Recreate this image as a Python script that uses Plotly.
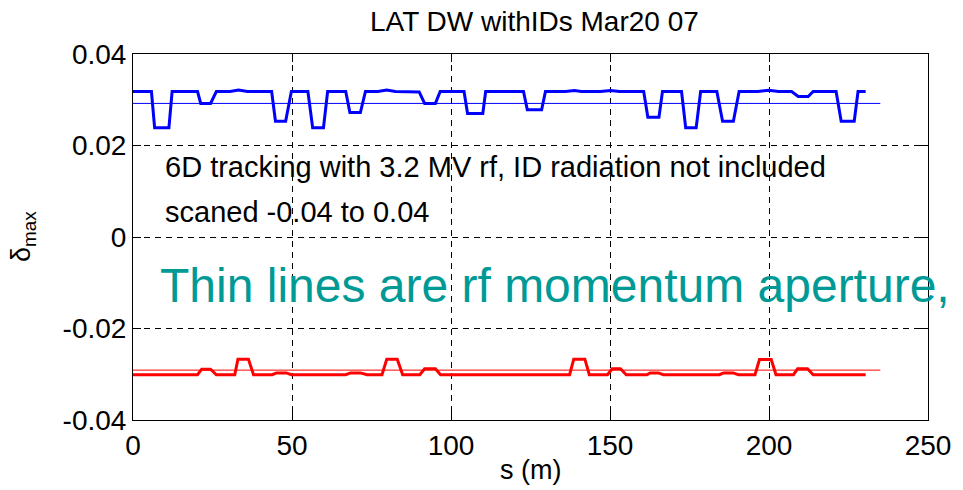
import plotly.graph_objects as go

# ---- data ----
s_blue = [0, 5.8, 6.8, 11.3, 12.3, 20.3, 21.3, 24.4, 26.2, 30.5, 33.2, 36, 43.6, 44.8, 48.0, 49.8,
          55.0, 56.5, 59.9, 61.2, 66.9, 68.2, 71.5, 73.1, 77, 79.8, 82.5, 86, 88, 90.0, 91.7, 95.1,
          96.6, 104.1, 105.2, 110.0, 110.9, 122.8, 124.0, 128.5, 129.7, 136, 138.8, 141, 147, 150.2,
          153, 160.6, 161.9, 165.4, 166.5, 172.5, 173.8, 177.1, 178.5, 183.6, 185.4, 188.8, 190.6,
          196.5, 199.9, 203, 207.1, 209.2, 212.3, 213.9, 221.1, 222.7, 226.8, 228.0, 230.4]
d_blue = [0.0318, 0.0318, 0.0239, 0.0239, 0.0318, 0.0318, 0.0292, 0.0292, 0.0318, 0.0318, 0.0321,
          0.0318, 0.0318, 0.0253, 0.0253, 0.0318, 0.0318, 0.0239, 0.0239, 0.0318, 0.0318, 0.0272,
          0.0272, 0.0318, 0.0318, 0.0321, 0.0318, 0.0318, 0.0317, 0.0317, 0.0292, 0.0292, 0.0318,
          0.0318, 0.0270, 0.0270, 0.0318, 0.0318, 0.0278, 0.0278, 0.0318, 0.0318, 0.0320, 0.0318,
          0.0318, 0.0320, 0.0318, 0.0318, 0.0262, 0.0262, 0.0318, 0.0318, 0.0239, 0.0239, 0.0318,
          0.0318, 0.0253, 0.0253, 0.0318, 0.0318, 0.0321, 0.0318, 0.0318, 0.0307, 0.0307, 0.0318,
          0.0318, 0.0253, 0.0253, 0.0318, 0.0318]

s_red = [0, 20.3, 21.6, 24.4, 26.2, 32.0, 33.0, 36.3, 37.9, 43.8, 45.1, 48.2, 49.8, 66.9, 68.4, 71.5,
         73.6, 78.3, 79.8, 83.1, 84.8, 90.2, 91.7, 95.1, 96.7, 137.3, 138.6, 142.1, 143.5, 149.2,
         150.7, 153.3, 155.1, 161.6, 162.6, 165.2, 166.8, 184.4, 185.7, 188.7, 190.4, 195.6, 197.0,
         200.7, 202.2, 207.7, 209.0, 212.1, 213.9, 230.4]
d_red = [-0.0301, -0.0301, -0.0289, -0.0289, -0.0301, -0.0301, -0.0267, -0.0267, -0.0301, -0.0301,
         -0.0297, -0.0297, -0.0301, -0.0301, -0.0297, -0.0297, -0.0301, -0.0301, -0.0267, -0.0267,
         -0.0301, -0.0301, -0.0288, -0.0288, -0.0301, -0.0301, -0.0267, -0.0267, -0.0301, -0.0301,
         -0.0288, -0.0288, -0.0301, -0.0301, -0.0297, -0.0297, -0.0301, -0.0301, -0.0297, -0.0297,
         -0.0301, -0.0301, -0.0268, -0.0268, -0.0301, -0.0301, -0.0288, -0.0288, -0.0301, -0.0301]

s_rf = [0, 235]
d_rf_pos = [0.0292, 0.0292]
d_rf_neg = [-0.0291, -0.0291]

x_ticks = [0, 50, 100, 150, 200, 250]
x_ticktext = ["0", "50", "100", "150", "200", "250"]
y_ticks = [0.04, 0.02, 0, -0.02, -0.04]
y_ticktext = ["0.04", "0.02", "0", "-0.02", "-0.04"]

FONT = "Liberation Sans, Arial, sans-serif"

fig = go.Figure()
fig.add_trace(go.Scatter(x=s_rf, y=d_rf_pos, mode="lines",
                         line=dict(color="#0000FF", width=1), showlegend=False))
fig.add_trace(go.Scatter(x=s_rf, y=d_rf_neg, mode="lines",
                         line=dict(color="#FF0000", width=1), showlegend=False))
fig.add_trace(go.Scatter(x=s_blue, y=d_blue, mode="lines",
                         line=dict(color="#0000FF", width=3), showlegend=False))
fig.add_trace(go.Scatter(x=s_red, y=d_red, mode="lines",
                         line=dict(color="#FF0000", width=3), showlegend=False))

axis_common = dict(
    showline=True, linecolor="black", linewidth=1, mirror="ticks",
    ticks="inside", ticklen=8, tickcolor="black", tickwidth=1,
    showgrid=True, gridcolor="black", gridwidth=1, griddash="6px,5px",
    zeroline=False, tickfont=dict(family=FONT, size=28, color="black"),
)

fig.update_xaxes(range=[0, 250], tickvals=x_ticks, ticktext=x_ticktext, **axis_common)
fig.update_yaxes(range=[-0.04, 0.04], tickvals=y_ticks, ticktext=y_ticktext, **axis_common)

fig.update_layout(
    width=963, height=490,
    margin=dict(l=133, r=25, t=54, b=70),
    paper_bgcolor="white", plot_bgcolor="white",
    font=dict(family=FONT, color="black"),
    annotations=[
        dict(text="LAT DW withIDs Mar20 07", xref="paper", yref="paper", x=0.505, y=1,
             yshift=33, xanchor="center", yanchor="middle", showarrow=False,
             font=dict(family=FONT, size=28, color="black")),
        dict(text="s (m)", xref="paper", yref="paper", x=0.5, y=0, yshift=-50,
             xanchor="center", yanchor="middle", showarrow=False,
             font=dict(family=FONT, size=27, color="black")),
        dict(text="δ<sub>max</sub>", xref="paper", yref="paper", x=0, y=0.5, xshift=-110,
             xanchor="center", yanchor="middle", textangle=-90, showarrow=False,
             font=dict(family=FONT, size=27, color="black")),
        dict(text="6D tracking with 3.2 MV rf, ID radiation not included", xref="x", yref="y",
             x=9.3, y=0.0152, xanchor="left", yanchor="middle", showarrow=False,
             font=dict(family=FONT, size=29, color="black")),
        dict(text="scaned -0.04 to 0.04", xref="x", yref="y",
             x=9.3, y=0.0054, xanchor="left", yanchor="middle", showarrow=False,
             font=dict(family=FONT, size=29, color="black")),
        dict(text="Thin lines are rf momentum aperture,", xref="x", yref="y",
             x=7.9, y=-0.0105, xanchor="left", yanchor="middle", showarrow=False,
             font=dict(family=FONT, size=48, color="#009A96")),
    ],
)

fig.write_html("out.html")
